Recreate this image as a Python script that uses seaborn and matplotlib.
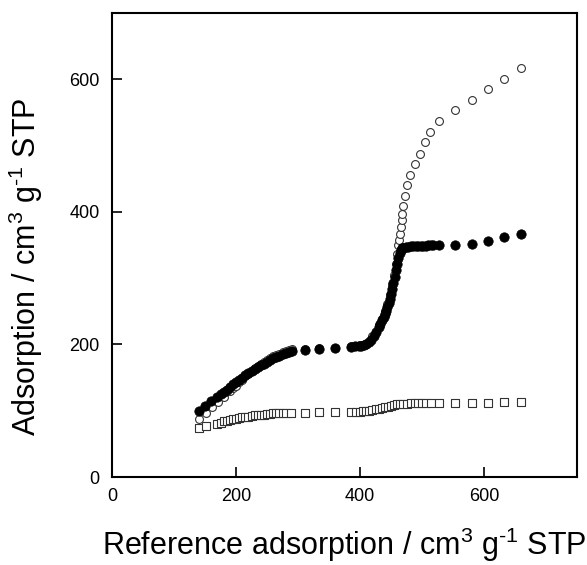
import numpy as np
import pandas as pd
import matplotlib
matplotlib.use("Agg")
import matplotlib.pyplot as plt
import seaborn as sns

# Filled circles
a_x = [140, 150, 160, 170, 175, 180, 185, 190, 195, 200, 205, 210, 215, 220, 225, 230, 235, 240,
       245, 250, 255, 260, 265, 270, 275, 280, 285, 290, 311, 334, 359, 386, 392, 398, 402, 406,
       410, 414, 418, 422, 426, 430, 433, 436, 438, 440, 442, 444, 446, 448, 450, 452, 454, 456,
       458, 460, 462, 464, 466, 468, 470, 474, 478, 482, 486, 490, 494, 498, 502, 506, 510, 514,
       518, 528, 554, 580, 606, 632, 659]
a_y = [100, 107, 115, 121, 125, 128, 132, 136, 140, 143, 147, 150, 154, 157, 160, 163, 166, 169,
       171, 174, 176, 179, 181, 183, 185, 187, 188, 190, 191, 193, 194, 196, 197, 197, 198, 199,
       200, 203, 207, 213, 219, 226, 231, 237, 241, 246, 251, 256, 262, 269, 276, 284, 293, 302,
       312, 322, 331, 338, 342, 345, 346, 347, 347, 348, 348, 348, 348, 349, 349, 349, 350, 350,
       350, 350, 350, 351, 356, 362, 367]

# Open circles
b_x = [140, 151, 162, 171, 181, 190, 195, 200, 205, 210, 215, 220, 225, 230, 235, 240, 245, 250,
       255, 260, 265, 270, 275, 280, 285, 290, 311, 334, 359, 386, 400, 410, 420, 430, 436, 440,
       444, 448, 452, 455, 458, 460, 461.5, 463, 464, 465.5, 467, 468.5, 470, 472.6, 476, 480.6,
       488, 497, 505, 513, 527, 554, 580, 606, 632, 659]
b_y = [88, 96, 105, 113, 121, 129, 134, 138, 143, 147, 152, 156, 160, 164, 167, 171, 174, 177,
       180, 182, 184, 186, 188, 190, 191, 193, 193, 194, 195, 197, 199, 201, 212, 229, 239, 250,
       261, 274, 290, 304, 322, 337, 350, 358, 366, 377, 387, 397, 409, 424, 440, 456,
       472, 488, 505, 521, 537, 553, 569, 585, 601, 617]

# Open squares
c_x = [140, 151, 170, 175, 180, 185, 190, 195, 200, 205, 210, 215, 220, 225, 230, 235, 240, 245,
       250, 255, 260, 265, 270, 275, 280, 288, 311, 334, 359, 386, 394, 400, 405, 410, 415, 420,
       425, 430, 435, 440, 445, 450, 455, 460, 465, 470, 476, 482, 488, 494, 500, 507, 514, 528,
       553, 581, 607, 633, 659]
c_y = [74, 77, 80, 82, 84, 85, 86, 87, 88, 89, 90, 91, 91, 92, 93, 93, 94, 94,
       95, 95, 96, 96, 97, 97, 97, 97, 97, 97.5, 97.5, 98, 98, 98.5, 99, 99, 100, 101,
       102, 103, 104, 105, 106, 107, 108.5, 109.5, 110, 110.5, 110.5, 111, 111, 111, 111, 111, 111, 111,
       111, 112, 112, 112.5, 113]

x_ticks = [0, 200, 400, 600]
y_ticks = [0, 200, 400, 600]

df_a = pd.DataFrame({"x": a_x, "y": a_y})
df_b = pd.DataFrame({"x": b_x, "y": b_y})
df_c = pd.DataFrame({"x": c_x, "y": c_y})

sns.set_style("ticks")
plt.rcParams["font.family"] = ["Liberation Sans", "DejaVu Sans"]
plt.rcParams["mathtext.fontset"] = "custom"
plt.rcParams["mathtext.rm"] = "Liberation Sans"
plt.rcParams["mathtext.it"] = "Liberation Sans"
plt.rcParams["text.color"] = "black"
plt.rcParams["axes.labelcolor"] = "black"

fig = plt.figure(figsize=(5.87, 5.65), dpi=100)
ax = fig.add_axes([112 / 587, 1 - 477 / 565, 465 / 587, 464 / 565])

sns.scatterplot(data=df_c, x="x", y="y", ax=ax, marker="s", s=34, facecolor="white",
                edgecolor="#333333", linewidth=0.8, zorder=2)
sns.scatterplot(data=df_b, x="x", y="y", ax=ax, marker="o", s=32, facecolor="white",
                edgecolor="#333333", linewidth=0.8, zorder=3)
sns.scatterplot(data=df_a, x="x", y="y", ax=ax, marker="o", s=46, color="black",
                edgecolor="black", linewidth=0.5, zorder=4)

ax.set_xlim(0, 750)
ax.set_ylim(0, 700)
ax.set_xticks(x_ticks)
ax.set_yticks(y_ticks)
ax.tick_params(direction="in", length=7, width=1.2, labelsize=13, colors="black")
ax.tick_params(axis="y", pad=9)
ax.tick_params(axis="x", pad=8)
for sp in ax.spines.values():
    sp.set_visible(True)
    sp.set_linewidth(1.5)
    sp.set_color("black")

ax.set_xlabel(r"Reference adsorption / cm$^{3}$ g$^{\text{-1}}$ STP", fontsize=22, color="black")
ax.set_ylabel(r"Adsorption / cm$^{3}$ g$^{\text{-1}}$ STP", fontsize=22, color="black")
ax.xaxis.set_label_coords(0.5, -0.106)
ax.yaxis.set_label_coords(-0.144, 0.454)

fig.savefig("out.png", dpi=100)
